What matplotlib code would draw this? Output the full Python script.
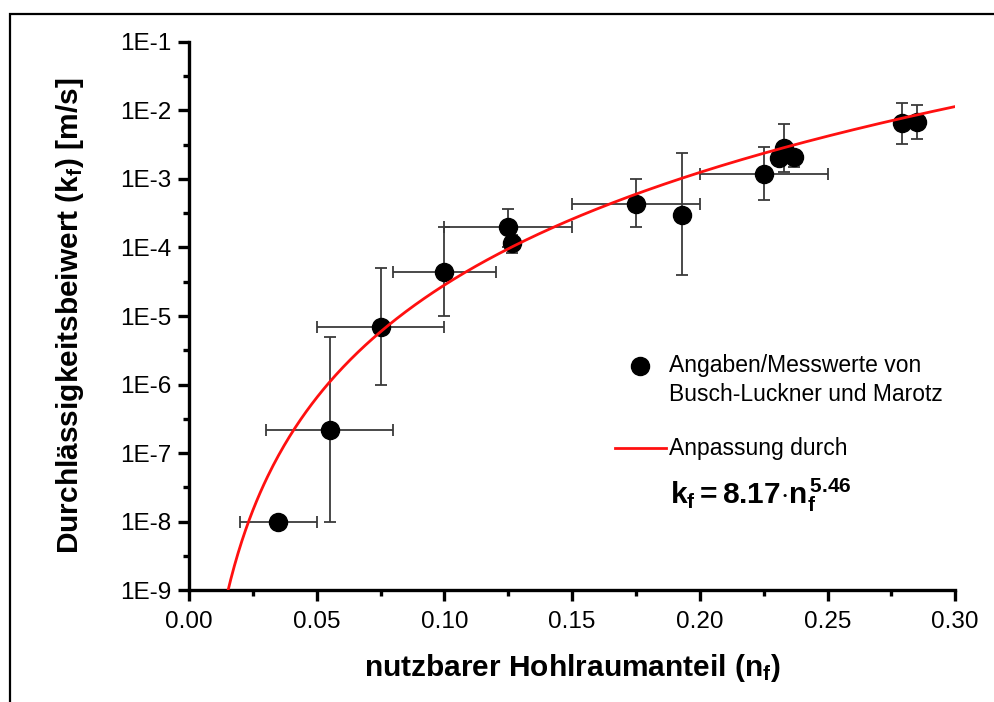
import numpy as np
import matplotlib
matplotlib.use("Agg")
import matplotlib.pyplot as plt
from matplotlib.patches import Rectangle
from matplotlib.ticker import FixedLocator, NullFormatter

plt.rcParams['font.family'] = ['Liberation Sans', 'DejaVu Sans']
plt.rcParams['mathtext.fontset'] = 'custom'
plt.rcParams['mathtext.rm'] = 'Liberation Sans'
plt.rcParams['mathtext.bf'] = 'Liberation Sans:bold'
plt.rcParams['mathtext.it'] = 'Liberation Sans:italic'

# measured values (Busch-Luckner und Marotz)
n_f = [0.035, 0.055, 0.075, 0.100, 0.125, 0.1265, 0.175, 0.193, 0.225, 0.233, 0.231, 0.237, 0.279, 0.285]
k_f = [1.0e-8, 2.2e-7, 7.0e-6, 4.4e-5, 2.0e-4, 1.15e-4, 4.3e-4, 3.0e-4, 1.2e-3, 2.8e-3, 2.0e-3, 2.1e-3, 6.5e-3, 6.7e-3]
# error ranges (absolute lower/upper bounds)
n_lo = [0.020, 0.030, 0.050, 0.080, 0.100, 0.1265, 0.150, 0.193, 0.200, 0.233, 0.231, 0.237, 0.279, 0.285]
n_hi = [0.050, 0.080, 0.100, 0.120, 0.150, 0.1265, 0.200, 0.193, 0.250, 0.233, 0.231, 0.237, 0.279, 0.285]
k_lo = [1.0e-8, 1.0e-8, 1.0e-6, 1.0e-5, 1.0e-4, 8.2e-5, 2.0e-4, 4.0e-5, 5.0e-4, 1.28e-3, 1.7e-3, 1.5e-3, 3.2e-3, 3.8e-3]
k_hi = [1.0e-8, 5.0e-6, 5.0e-5, 2.0e-4, 3.7e-4, 1.5e-4, 1.0e-3, 2.4e-3, 2.9e-3, 6.3e-3, 2.4e-3, 2.5e-3, 1.3e-2, 1.2e-2]

# fit parameters
fit_a = 8.17
fit_b = 5.46

y_ticks = [1e-9, 1e-8, 1e-7, 1e-6, 1e-5, 1e-4, 1e-3, 1e-2, 1e-1]
y_labels = ['1E-9', '1E-8', '1E-7', '1E-6', '1E-5', '1E-4', '1E-3', '1E-2', '1E-1']
x_ticks = [0.00, 0.05, 0.10, 0.15, 0.20, 0.25, 0.30]

n_f = np.array(n_f)
k_f = np.array(k_f)
xerr = [n_f - np.array(n_lo), np.array(n_hi) - n_f]
yerr = [k_f - np.array(k_lo), np.array(k_hi) - k_f]

fig = plt.figure(figsize=(9.95, 7.02), dpi=100)
ax = fig.add_axes([0.190, 0.1595, 0.770, 0.7807])

# outer frame (cropped screenshot border)
fig.patches.append(Rectangle((9.5 / 995, -0.05), 1.2, 1 - 13.5 / 702 + 0.05, transform=fig.transFigure,
                             fill=False, edgecolor='black', linewidth=1.6))

ax.errorbar(n_f, k_f, xerr=xerr, yerr=yerr, fmt='o', color='black', markersize=13,
            ecolor='#3a3a3a', elinewidth=1.3, capsize=4.5, capthick=1.3, zorder=3)

n_fit = np.linspace(0.012, 0.30, 400)
ax.plot(n_fit, fit_a * n_fit ** fit_b, color='#ff1010', linewidth=2, zorder=4)

ax.set_yscale('log')
ax.set_xlim(0, 0.30)
ax.set_ylim(1e-9, 1e-1)
ax.yaxis.set_major_locator(FixedLocator(y_ticks))
ax.set_yticklabels(y_labels)
ax.yaxis.set_minor_locator(FixedLocator([10 ** (e + 0.5) for e in range(-9, -1)]))
ax.yaxis.set_minor_formatter(NullFormatter())
ax.set_xticks(x_ticks)
ax.set_xticklabels(['%.2f' % v for v in x_ticks])
ax.xaxis.set_minor_locator(FixedLocator(np.arange(0.025, 0.30, 0.05)))

for s in ['top', 'right']:
    ax.spines[s].set_visible(False)
for s in ['left', 'bottom']:
    ax.spines[s].set_linewidth(2.4)

ax.tick_params(which='major', direction='out', length=8, width=2.4, labelsize=17.5, colors='black')
ax.tick_params(axis='y', which='major', pad=5)
ax.tick_params(axis='x', which='major', pad=7)
ax.tick_params(which='minor', direction='out', length=4.5, width=2.4)

ax.set_xlabel('nutzbarer Hohlraumanteil (n$_\\mathbf{f}$)', fontsize=21.5, fontweight='bold', labelpad=14)
ax.set_ylabel('Durchlässigkeitsbeiwert (k$_\\mathbf{f}$) [m/s]', fontsize=21.5, fontweight='bold', labelpad=24)

# legend drawn by hand
ax.plot([0.589], [0.409], transform=ax.transAxes, marker='o', color='black', markersize=13, clip_on=False)
ax.text(0.627, 0.409, 'Angaben/Messwerte von', transform=ax.transAxes,
        fontsize=16.5, va='center', ha='left')
ax.text(0.627, 0.356, 'Busch-Luckner und Marotz', transform=ax.transAxes,
        fontsize=16.5, va='center', ha='left')
ax.plot([0.556, 0.622], [0.259, 0.259], transform=ax.transAxes, color='#ff1010', linewidth=2)
ax.text(0.627, 0.259, 'Anpassung durch', transform=ax.transAxes, fontsize=16.5, va='center', ha='left')
ax.text(0.628, 0.172, r'$\mathbf{k_f = 8.17{\cdot}n_f^{\,5.46}}$', transform=ax.transAxes,
        fontsize=21.5, va='center', ha='left')

fig.savefig('out.png', dpi=100)
